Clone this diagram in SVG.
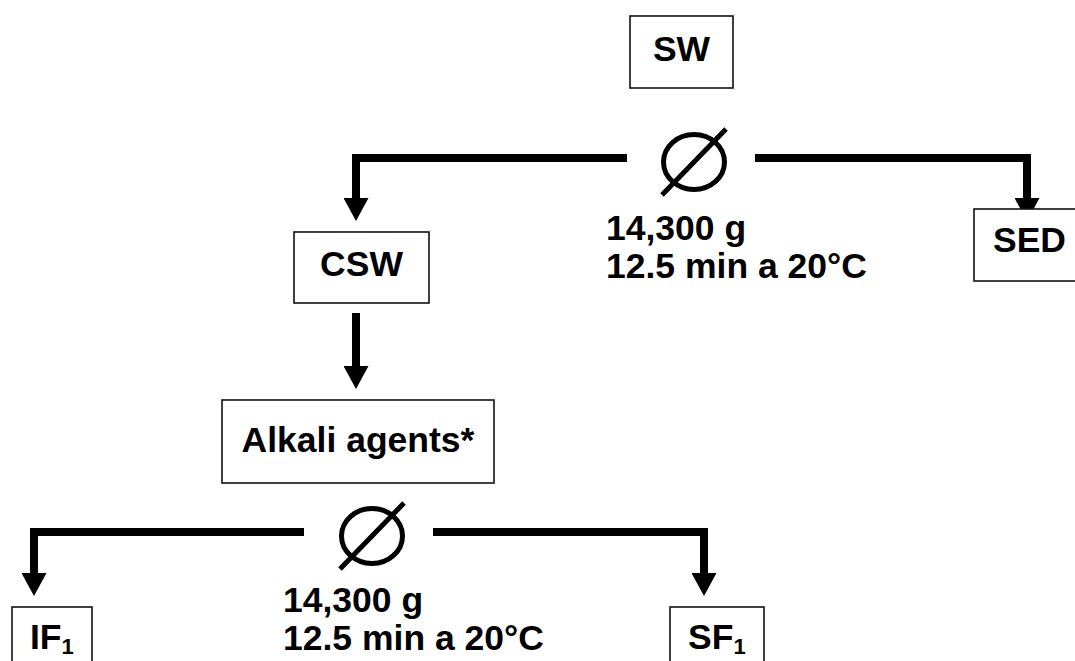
<svg xmlns="http://www.w3.org/2000/svg" width="1075" height="661" viewBox="0 0 1075 661">
<style>
.box{fill:#fff;stroke:#111;stroke-width:1.6}
.t{font-family:"Liberation Sans",Arial,sans-serif;font-weight:bold;font-size:35.5px;fill:#000}
.c{text-anchor:middle}
.sub{font-size:22px}
.con{fill:none;stroke:#000;stroke-width:8;stroke-linejoin:miter;stroke-linecap:butt}
.sym{fill:none;stroke:#000;stroke-width:5}
</style>
<defs>
<marker id="ah" markerUnits="userSpaceOnUse" markerWidth="23" markerHeight="25" refX="0" refY="12.5" orient="auto" viewBox="0 0 23 25">
<path d="M0,0 L23,12.5 L0,25 Z" fill="#000"/>
</marker>
</defs>
<rect width="1075" height="661" fill="#fff"/>
<g id="connectors">
<polyline class="con" points="627,158 356,158 356,198" marker-end="url(#ah)"/>
<polyline class="con" points="755,158 1027,158 1027,198" marker-end="url(#ah)"/>
<polyline class="con" points="356,313 356,366" marker-end="url(#ah)"/>
<polyline class="con" points="304,532 34,532 34,573" marker-end="url(#ah)"/>
<polyline class="con" points="433,532 704,532 704,573" marker-end="url(#ah)"/>
</g>
<g id="centrifuge1">
<ellipse class="sym" cx="694" cy="162" rx="30.5" ry="27.5"/>
<line class="sym" x1="662" y1="195" x2="726" y2="129"/>
<text class="t" x="606" y="240">14,300 g</text>
<text class="t" x="606" y="278">12.5 min a 20°C</text>
</g>
<g id="centrifuge2">
<ellipse class="sym" cx="372" cy="536" rx="30.5" ry="27.5"/>
<line class="sym" x1="340" y1="569" x2="404" y2="503"/>
<text class="t" x="283" y="612">14,300 g</text>
<text class="t" x="283" y="650">12.5 min a 20°C</text>
</g>
<g id="SW">
<rect class="box" x="630" y="16" width="103" height="72"/>
<text class="t c" x="681.5" y="61">SW</text>
</g>
<g id="CSW">
<rect class="box" x="294" y="232" width="135" height="71"/>
<text class="t c" x="361.5" y="276">CSW</text>
</g>
<g id="SED">
<rect class="box" x="974" y="209" width="104" height="72"/>
<text class="t" x="993" y="252">SED</text>
</g>
<g id="Alkali">
<rect class="box" x="222" y="400" width="272" height="83"/>
<text class="t c" x="358" y="452">Alkali agents*</text>
</g>
<g id="IF1">
<rect class="box" x="12" y="607" width="80" height="60"/>
<text class="t" x="30" y="649">IF<tspan class="sub" dy="5">1</tspan></text>
</g>
<g id="SF1">
<rect class="box" x="670" y="607" width="94" height="60"/>
<text class="t" x="688" y="649">SF<tspan class="sub" dy="5">1</tspan></text>
</g>
</svg>
